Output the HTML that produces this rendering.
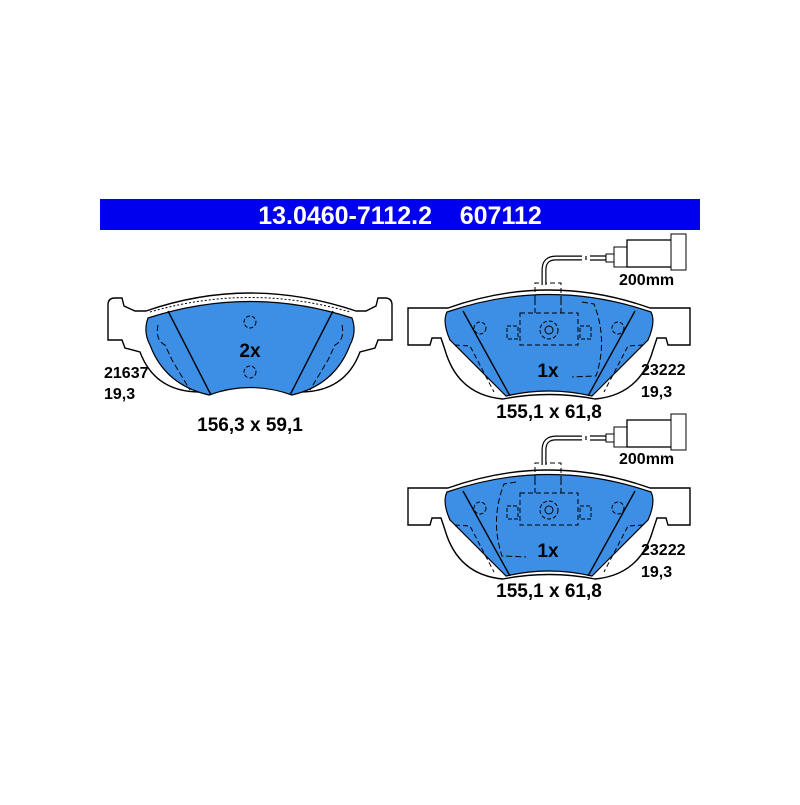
<!DOCTYPE html>
<html><head><style>
body{margin:0;background:#fff;width:800px;height:800px;overflow:hidden}
text{font-family:"Liberation Sans",Arial,sans-serif;font-weight:bold}
</style></head><body>
<svg width="800" height="800" viewBox="0 0 800 800" xmlns="http://www.w3.org/2000/svg">
<defs>
<g id="rpad">
 <path d="M408,308 L448,308 Q549,272 650,308 L690,308 L690,345 L668,345 L666,338 L657,338 L653,350 Q640,395 595,399 Q549,390 503,399 Q458,395 445,350 L441,338 L432,338 L430,345 L408,345 Z" fill="#fff" stroke="#000" stroke-width="1.4"/>
 <path d="M447,312 Q549,277 651,312 Q656,322 648,340 L592,396 Q549,386 506,396 L450,340 Q442,322 447,312 Z" fill="#3d8fe6" stroke="#000" stroke-width="1.2"/>
 <line x1="463" y1="311" x2="510" y2="396" stroke="#000" stroke-width="1.4"/>
 <line x1="635" y1="311" x2="588" y2="396" stroke="#000" stroke-width="1.4"/>
 <path d="M455,345 L470,346 L494,392 M643,345 L628,346 L604,392" fill="none" stroke="#000" stroke-dasharray="5,3"/>
 <path d="M535,300 L535,283 L561,283 L561,300 M520,313 L578,313 L578,345 L520,345 Z M535,300 L535,313 M561,300 L561,313" fill="none" stroke="#000" stroke-dasharray="5,3"/>
 <rect x="507" y="326" width="11" height="13" fill="none" stroke="#000" stroke-dasharray="4,2"/>
 <rect x="580" y="326" width="11" height="13" fill="none" stroke="#000" stroke-dasharray="4,2"/>
 <circle cx="549" cy="330" r="9" fill="none" stroke="#000" stroke-dasharray="4,2"/>
 <circle cx="549" cy="330" r="4" fill="none" stroke="#000"/>
 <circle cx="480" cy="328" r="6" fill="none" stroke="#000" stroke-dasharray="4,2"/>
 <circle cx="618" cy="328" r="6" fill="none" stroke="#000" stroke-dasharray="4,2"/>
 <path d="M544,285 L544,270 Q544,258 556,258 L582,258" fill="none" stroke="#000" stroke-width="5"/>
 <path d="M544,285 L544,270 Q544,258 556,258 L582,258" fill="none" stroke="#fff" stroke-width="2.6"/>
 <path d="M586,256 L586,260 M590,256 L606,256 L606,260 L590,260" fill="none" stroke="#000" stroke-width="1.2"/>
 <rect x="606" y="254" width="8" height="8" fill="#fff" stroke="#000"/>
 <rect x="614" y="247" width="13" height="20" fill="#fff" stroke="#000"/>
 <rect x="627" y="240" width="50" height="27" fill="#fff" stroke="#000" stroke-width="1.3"/>
 <rect x="671" y="234" width="15" height="36" fill="#fff" stroke="#000"/>
</g>
</defs>
<rect x="100" y="199" width="600" height="31" fill="#0000ee"/>
<text x="400" y="224" font-size="25" fill="#fff" text-anchor="middle">13.0460-7112.2 &#160;&#160;&#160;607112</text>

<path d="M108,305 Q108,298 115,298 L122,298 L124,306 L135,311 L146,311 Q250,275 356,311 L366,311 L376,306 L378,298 L385,298 Q392,298 392,305 L392,340 L378,340 L375,348 L360,352 Q345,392 300,392 Q250,380 200,392 Q155,392 140,352 L125,348 L122,340 L108,340 Z" fill="#fff" stroke="#000" stroke-width="1.4"/>
<path d="M148,318 Q250,285 352,318 Q357,332 350,345 Q335,385 292,395 Q250,380 209,395 Q165,385 150,345 Q143,332 148,318 Z" fill="#3d8fe6" stroke="#000" stroke-width="1.2"/>
<path d="M150,312 Q250,283 350,312" fill="none" stroke="#000" stroke-width="1" stroke-dasharray="2,2"/>
<line x1="168" y1="311" x2="211" y2="395" stroke="#000" stroke-width="1.4"/>
<line x1="333" y1="311" x2="290" y2="395" stroke="#000" stroke-width="1.4"/>
<path d="M158,325 Q155,340 165,345 L172,360 L190,390 M342,325 Q345,340 335,345 L328,360 L310,390" fill="none" stroke="#000" stroke-dasharray="6,3"/>
<circle cx="250" cy="322" r="6" fill="none" stroke="#000" stroke-dasharray="4,2"/>
<circle cx="250" cy="372" r="6" fill="none" stroke="#000" stroke-dasharray="4,2"/>
<text x="250" y="357" font-size="19" text-anchor="middle">2x</text>
<text x="104" y="378" font-size="16">21637</text>
<text x="104" y="399" font-size="16">19,3</text>
<text x="250" y="431" font-size="19" text-anchor="middle">156,3 x 59,1</text>

<use href="#rpad"/>
<path d="M582,302 L594,304 Q608,340 596,376 L572,377" fill="none" stroke="#000" stroke-dasharray="6,3"/>
<text x="548" y="377" font-size="19" text-anchor="middle">1x</text>
<text x="619" y="285" font-size="16">200mm</text>
<text x="641" y="375" font-size="16">23222</text>
<text x="641" y="397" font-size="16">19,3</text>
<text x="549" y="418" font-size="19" text-anchor="middle">155,1 x 61,8</text>

<g transform="translate(0,180)"><use href="#rpad"/>
<path d="M516,302 L504,304 Q490,340 502,376 L526,377" fill="none" stroke="#000" stroke-dasharray="6,3"/></g>
<text x="548" y="557" font-size="19" text-anchor="middle">1x</text>
<text x="619" y="464" font-size="16">200mm</text>
<text x="641" y="555" font-size="16">23222</text>
<text x="641" y="577" font-size="16">19,3</text>
<text x="549" y="597" font-size="19" text-anchor="middle">155,1 x 61,8</text>
</svg>
</body></html>
